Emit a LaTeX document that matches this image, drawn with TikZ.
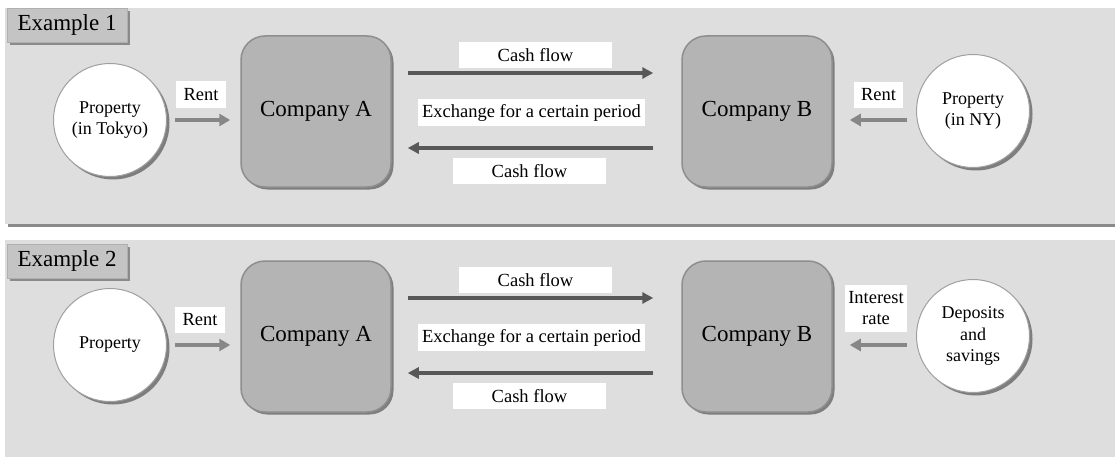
\documentclass[tikz,border=0pt]{standalone}
\usepackage{fontspec}
\setmainfont{Liberation Serif}
\usetikzlibrary{arrows.meta,shadows}
\definecolor{panelbg}{HTML}{DEDEDE}
\definecolor{tabfill}{HTML}{C4C4C4}
\definecolor{tabedge}{HTML}{B0B0B0}
\definecolor{compfill}{HTML}{B4B4B4}
\definecolor{compedge}{HTML}{8E8E8E}
\definecolor{shadowgray}{HTML}{7E7E7E}
\definecolor{circedge}{HTML}{A0A0A0}
\definecolor{longarr}{HTML}{585858}
\definecolor{shortarr}{HTML}{878787}
\definecolor{sepline}{HTML}{8A8A8A}
\begin{document}
\begin{tikzpicture}[x=1pt,y=-1pt,
  company/.style={rectangle, rounded corners=24pt, fill=compfill, draw=compedge, line width=1.5pt,
    minimum width=150pt, minimum height=151pt, inner sep=0pt, font=\fontsize{23}{26}\selectfont,
    drop shadow={shadow xshift=2.5pt, shadow yshift=-2.5pt, fill=shadowgray, opacity=1, draw=none}},
  prop/.style={circle, fill=white, draw=circedge, line width=1pt, minimum size=113pt, inner sep=0pt,
    align=center, font=\fontsize{18}{21.5}\selectfont,
    drop shadow={shadow xshift=3pt, shadow yshift=-3pt, fill=shadowgray, opacity=1, draw=none}},
  lbl/.style={rectangle, fill=white, inner sep=0pt, align=center, font=\fontsize{18.5}{21}\selectfont},
  tab/.style={rectangle, fill=tabfill, draw=tabedge, line width=0.8pt, minimum width=120pt, minimum height=34pt,
    inner sep=0pt, font=\fontsize{23}{26}\selectfont,
    drop shadow={shadow xshift=3pt, shadow yshift=-3pt, fill=sepline, opacity=1, draw=none}},
  longarrow/.style={draw=longarr, line width=3.5pt, -{Triangle[length=11pt,width=11pt]}},
  shortarrow/.style={draw=shortarr, line width=4pt, -{Triangle[length=11pt,width=12pt]}},
]
\useasboundingbox (0,0) rectangle (1115,457);
% panels
\fill[panelbg] (5,8) rectangle (1115,224);
\draw[sepline, line width=3pt] (8,225.5) -- (1115,225.5);
\fill[panelbg] (5,240) rectangle (1115,457);

% ---------- Example 1 ----------
\node[tab] (t1) at (67,25) {Example 1};
\node[prop] (p1) at (110,120) {Property\\(in Tokyo)};
\node[company] (a1) at (316,111.5) {Company A};
\node[company] (b1) at (757,111.5) {Company B};
\node[prop] (q1) at (973,111) {Property\\(in NY)};
\node[lbl, minimum width=50pt, minimum height=27pt] (r1) at (201,94.5) {Rent};
\node[lbl, minimum width=153pt, minimum height=26pt] (c1) at (535.5,55) {Cash flow};
\node[lbl, minimum width=227pt, minimum height=27pt] (e1) at (531.5,112.5) {Exchange for a certain period};
\node[lbl, minimum width=153pt, minimum height=26pt] (d1) at (529.5,171) {Cash flow};
\node[lbl, minimum width=49pt, minimum height=26pt] (s1) at (878.5,95) {Rent};

\draw[shortarrow, shorten <=8pt, shorten >=10pt] (p1.east) -- (p1.east -| a1.west);
\draw[longarrow, shorten <=16pt, shorten >=28pt] ([yshift=38.5pt]a1.east) -- ([yshift=38.5pt]b1.west);
\draw[longarrow, shorten <=28pt, shorten >=16pt] ([yshift=-36.5pt]b1.west) -- ([yshift=-36.5pt]a1.east);
\path ([yshift=-9pt]q1.west) coordinate (q1s);
\draw[shortarrow, shorten <=9pt, shorten >=17pt] (q1s) -- (q1s -| b1.east);

% ---------- Example 2 ----------
\node[tab] (t2) at (67,261) {Example 2};
\node[prop] (p2) at (110,345) {Property};
\node[company] (a2) at (316,336.5) {Company A};
\node[company] (b2) at (757,336.5) {Company B};
\node[prop] (q2) at (973,336) {Deposits\\and\\savings};
\node[lbl, minimum width=50pt, minimum height=26pt] (r2) at (200,320) {Rent};
\node[lbl, minimum width=153pt, minimum height=26pt] (c2) at (535.5,280) {Cash flow};
\node[lbl, minimum width=227pt, minimum height=27pt] (e2) at (531.5,337.5) {Exchange for a certain period};
\node[lbl, minimum width=153pt, minimum height=26pt] (d2) at (529.5,396) {Cash flow};
\node[lbl, minimum width=62pt, minimum height=47pt] (s2) at (876,308.5) {Interest\\rate};

\draw[shortarrow, shorten <=8pt, shorten >=10pt] (p2.east) -- (p2.east -| a2.west);
\draw[longarrow, shorten <=16pt, shorten >=28pt] ([yshift=38.5pt]a2.east) -- ([yshift=38.5pt]b2.west);
\draw[longarrow, shorten <=28pt, shorten >=16pt] ([yshift=-36.5pt]b2.west) -- ([yshift=-36.5pt]a2.east);
\path ([yshift=-9pt]q2.west) coordinate (q2s);
\draw[shortarrow, shorten <=9pt, shorten >=17pt] (q2s) -- (q2s -| b2.east);
\end{tikzpicture}
\end{document}
